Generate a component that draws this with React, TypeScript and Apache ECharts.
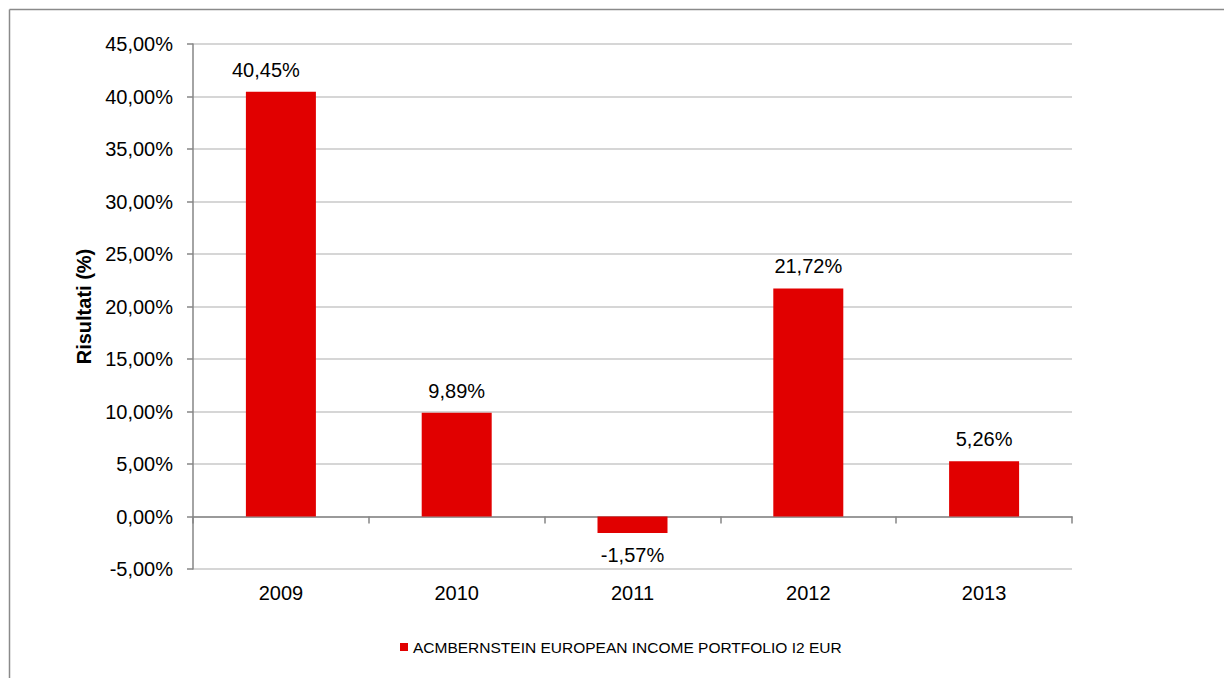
import React, { useEffect, useRef } from "react";
import * as echarts from "echarts";

const categories = ["2009", "2010", "2011", "2012", "2013"];
const values = [40.45, 9.89, -1.57, 21.72, 5.26];
const seriesName = "ACMBERNSTEIN EUROPEAN INCOME PORTFOLIO I2 EUR";
const yAxisName = "Risultati (%)";
const yMin = -5;
const yMax = 45;
const yStep = 5;

const fmt = (v: number) => v.toFixed(2).replace(".", ",") + "%";
// horizontal label nudges, as placed in the reference
const labelShift = [-15, 0, 0, 0, 0];

export default function App() {
  const ref = useRef<HTMLDivElement>(null);
  useEffect(() => {
    if (!ref.current) return;
    const chart = echarts.init(ref.current, undefined, { renderer: "svg" });
    const font = "'Liberation Sans', Arial, sans-serif";
    chart.setOption({
      animation: false,
      backgroundColor: "#ffffff",
      textStyle: { fontFamily: font },
      graphic: [
        { type: "line", shape: { x1: 9.5, y1: 9.5, x2: 1224, y2: 9.5 }, style: { stroke: "#8a8a8a", lineWidth: 1.5 } },
        { type: "line", shape: { x1: 9.5, y1: 9.5, x2: 9.5, y2: 678 }, style: { stroke: "#8a8a8a", lineWidth: 1.5 } },
      ],
      grid: { left: 193, right: 152, top: 44, bottom: 109, containLabel: false },
      legend: {
        data: [seriesName],
        left: 400,
        top: 639,
        padding: 0,
        icon: "rect",
        itemWidth: 8,
        itemHeight: 8,
        textStyle: { fontSize: 15.5, color: "#000", fontFamily: font },
      },
      xAxis: [
        {
          type: "category",
          data: categories,
          position: "bottom",
          axisLine: { show: false, onZero: false },
          axisTick: { show: false },
          axisLabel: { fontSize: 20, color: "#000", margin: 14, fontFamily: font },
        },
        {
          type: "category",
          data: categories,
          position: "bottom",
          axisLine: { show: true, onZero: true, lineStyle: { color: "#868686", width: 1.5 } },
          axisTick: { show: true, length: 7, lineStyle: { color: "#868686", width: 1.5 } },
          axisLabel: { show: false },
        },
      ],
      yAxis: {
        type: "value",
        min: yMin,
        max: yMax,
        interval: yStep,
        name: yAxisName,
        nameLocation: "middle",
        nameGap: 88,
        nameTextStyle: { fontSize: 20, fontWeight: "bold", color: "#000", fontFamily: font },
        axisLine: { show: true, lineStyle: { color: "#868686", width: 1.5 } },
        axisTick: { show: true, length: 6, lineStyle: { color: "#868686", width: 1.5 } },
        axisLabel: { fontSize: 20, color: "#000", margin: 20, formatter: (v: number) => fmt(v), fontFamily: font },
        splitLine: { show: true, lineStyle: { color: "#c8c8c8", width: 1.5 } },
      },
      series: [
        {
          name: seriesName,
          type: "bar",
          xAxisIndex: 0,
          barWidth: 70,
          itemStyle: { color: "#e10000" },
          data: values.map((v, i) => ({
            value: v,
            label: { position: v < 0 ? "bottom" : "top", offset: [labelShift[i], 0] },
          })),
          label: {
            show: true,
            fontSize: 20,
            color: "#000",
            distance: 12,
            fontFamily: font,
            formatter: (p: any) => fmt(p.value),
          },
        },
      ],
    });
    return () => chart.dispose();
  }, []);
  return (
    <div
      ref={ref}
      style={{ position: "fixed", left: 0, top: 0, width: 1224, height: 678 }}
    />
  );
}
